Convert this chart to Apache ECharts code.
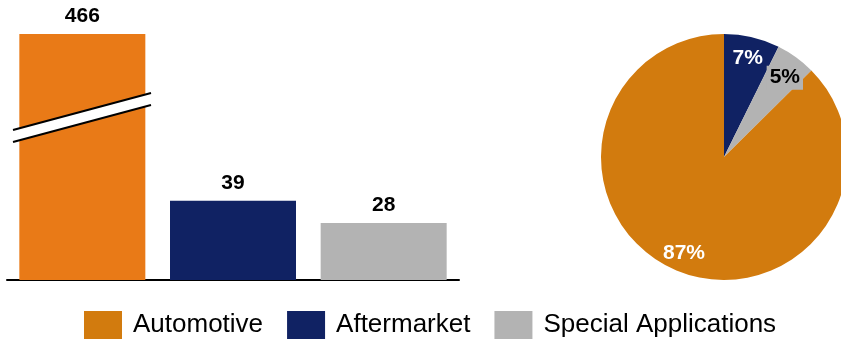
<!DOCTYPE html>
<html>
<head>
<meta charset="utf-8">
<script src="https://cdn.jsdelivr.net/npm/echarts@6/dist/echarts.min.js"></script>
<style>
  html, body { margin: 0; padding: 0; background: #fff; }
  #main { width: 841px; height: 341px; }
</style>
</head>
<body>
<div id="main"></div>
<script>
// data
var categories = ["Automotive", "Aftermarket", "Special Applications"];
var values = [466, 39, 28];
var barColors = ["#E97A17", "#102263", "#B3B3B3"];
var pieColors = ["#D27B0E", "#102263", "#B3B3B3"];
// the automotive bar runs past the (broken) axis top
var axisMax = 121;

var font = "'Liberation Sans', Arial, sans-serif";

var chart = echarts.init(document.getElementById("main"));

// bars
var barData = values.map(function(v, i){
	return {
		value : v,
		itemStyle : { color : barColors[i] }
	};
});

// pie order: clockwise from 12 o'clock -> Aftermarket, Special Applications, Automotive
var pieOrder = [1, 2, 0];
var labelOffsets = [[0, 0], [0, 2], [0, 5]];
var total = values.reduce(function(a, b){ return a + b; }, 0);
var pieData = pieOrder.map(function(i){
	return {
		name : categories[i],
		value : values[i],
		itemStyle : { color : pieColors[i] }
	};
});
var pieLabelData = pieOrder.map(function(i){
	var dark = (i == 2);
	return {
		name : categories[i],
		value : values[i],
		label : {
			color : dark ? "#000" : "#fff",
			backgroundColor : dark ? "#B3B3B3" : "transparent",
			padding : dark ? [2, 3, 1, 3] : 0,
			offset : labelOffsets[i]
		}
	};
});

var option = {
	animation : false,
	textStyle : { fontFamily : font },
	grid : {
		left : 7,
		right : 382,
		top : 34,
		bottom : 61
	},
	xAxis : {
		type : "category",
		data : categories,
		axisLine : { lineStyle : { color : "#000", width : 2 } },
		axisTick : { show : false },
		axisLabel : { show : false }
	},
	yAxis : {
		type : "value",
		min : 0,
		max : axisMax,
		show : false,
		splitLine : { show : false }
	},
	legend : {
		data : categories,
		left : 84,
		top : 311,
		padding : 0,
		itemGap : 24,
		itemWidth : 38,
		itemHeight : 28,
		icon : "rect",
		selectedMode : false,
		textStyle : {
			fontFamily : font,
			fontSize : 26,
			color : "#000",
			padding : [3, 0, 0, 6]
		}
	},
	graphic : [
		// break marks across the tall bar
		{
			type : "polygon",
			z : 100,
			shape : { points : [[13, 130], [151, 93], [151, 105], [13, 142]] },
			style : { fill : "#fff" }
		},
		{
			type : "line",
			z : 101,
			shape : { x1 : 13, y1 : 130, x2 : 151, y2 : 93 },
			style : { stroke : "#000", lineWidth : 2 }
		},
		{
			type : "line",
			z : 101,
			shape : { x1 : 13, y1 : 142, x2 : 151, y2 : 105 },
			style : { stroke : "#000", lineWidth : 2 }
		}
	],
	series : [
		{
			name : "bars",
			type : "bar",
			data : barData,
			barWidth : 126,
			clip : true,
			label : {
				show : true,
				position : "top",
				distance : 7,
				fontFamily : font,
				fontSize : 21,
				fontWeight : "bold",
				color : "#000"
			}
		},
		{
			name : "share",
			type : "pie",
			center : [724, 157],
			radius : 123,
			startAngle : 90,
			clockwise : true,
			data : pieData,
			label : { show : false },
			labelLine : { show : false },
			emphasis : { scale : false }
		},
		{
			// invisible ring, only carries the percentage labels
			name : "shareLabels",
			type : "pie",
			center : [724, 157],
			radius : [80, 122],
			startAngle : 90,
			clockwise : true,
			silent : true,
			data : pieLabelData,
			itemStyle : { color : "rgba(0,0,0,0)" },
			labelLine : { show : false },
			label : {
				show : true,
				position : "inside",
				fontFamily : font,
				fontSize : 21,
				fontWeight : "bold",
				formatter : function(p){
					return Math.round(p.value / total * 100) + "%";
				}
			}
		}
	]
};

chart.setOption(option);
</script>
</body>
</html>
